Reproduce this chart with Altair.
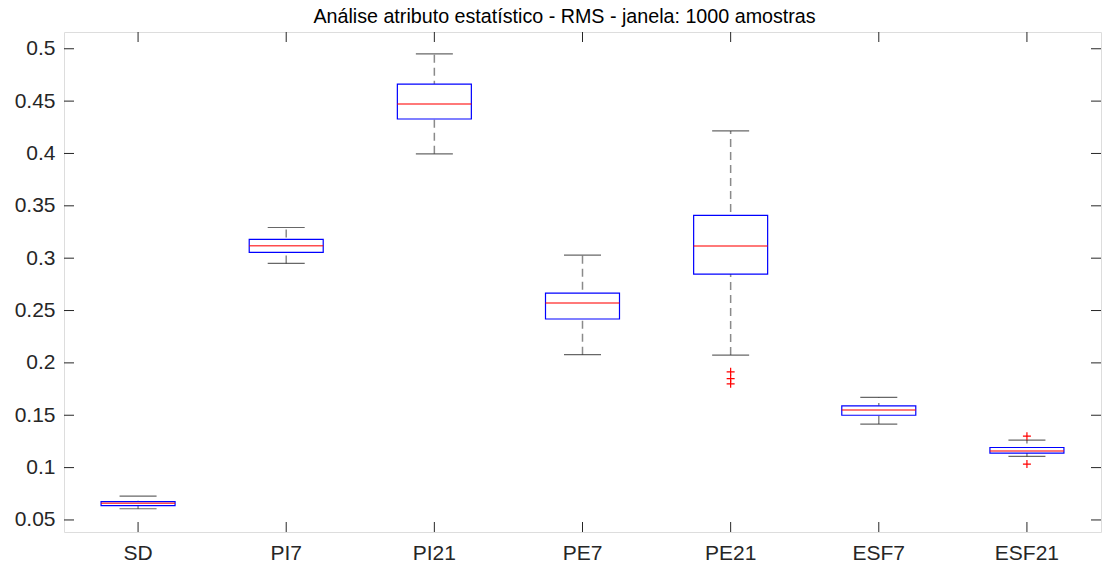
import altair as alt
import pandas as pd

categories = ["SD", "PI7", "PI21", "PE7", "PE21", "ESF7", "ESF21"]
whisker_low = [0.0607, 0.2950, 0.3997, 0.2078, 0.2075, 0.1416, 0.1107]
q1 = [0.0636, 0.3055, 0.4329, 0.2419, 0.2848, 0.1500, 0.1139]
median = [0.0660, 0.3119, 0.4472, 0.2571, 0.3116, 0.1550, 0.1158]
q3 = [0.0676, 0.3179, 0.4663, 0.2667, 0.3408, 0.1590, 0.1192]
whisker_high = [0.0727, 0.3293, 0.4952, 0.3030, 0.4215, 0.1670, 0.1263]

outlier_cat = ["PE21", "PE21", "PE21", "ESF21", "ESF21"]
outlier_val = [0.1915, 0.1850, 0.1800, 0.1300, 0.1034]

y_ticks = [0.05, 0.1, 0.15, 0.2, 0.25, 0.3, 0.35, 0.4, 0.45, 0.5]

title_text = "Análise atributo estatístico - RMS - janela: 1000 amostras"

W, H = 1037, 500
FONT = "Liberation Sans"
AX = "#262626"

boxes = pd.DataFrame({
    "cat": categories, "lo": whisker_low, "q1": q1,
    "med": median, "q3": q3, "hi": whisker_high,
})
caps = pd.DataFrame({
    "cat": categories + categories,
    "v": whisker_low + whisker_high,
})
outs = pd.DataFrame({"cat": outlier_cat, "v": outlier_val})
yt = pd.DataFrame({"v": y_ticks})
xt = pd.DataFrame({"cat": categories})

xscale = alt.Scale(domain=categories, paddingInner=0, paddingOuter=0)
yscale = alt.Scale(domain=[0.0385, 0.516], nice=False, zero=False)

xenc = alt.X("cat:N", scale=xscale, sort=categories,
             axis=alt.Axis(title=None, labelAngle=0, ticks=False, domain=False,
                           labelFont=FONT, labelFontSize=21, labelColor=AX,
                           labelPadding=10))

yaxis = alt.Axis(title=None, values=y_ticks, format=".2~f", ticks=False,
                 domain=False, grid=False, labelFont=FONT, labelFontSize=21,
                 labelColor=AX, labelPadding=9)

whisk = alt.Chart(boxes).mark_rule(color="#8a8a8a", strokeWidth=1.5,
                                   strokeDash=[8, 5]).encode(
    x=xenc,
    y=alt.Y("lo:Q", scale=yscale, axis=yaxis),
    y2="hi:Q",
)

cap = alt.Chart(caps).mark_tick(color=AX, size=37, thickness=1.2).encode(
    x=alt.X("cat:N", scale=xscale, sort=categories),
    y=alt.Y("v:Q", scale=yscale),
)

box = alt.Chart(boxes).mark_bar(fill="white", stroke="#0000ff",
                                strokeWidth=1.2, size=74).encode(
    x=alt.X("cat:N", scale=xscale, sort=categories),
    y=alt.Y("q1:Q", scale=yscale),
    y2="q3:Q",
)

med = alt.Chart(boxes).mark_tick(color="#ff0000", size=74, thickness=1.5).encode(
    x=alt.X("cat:N", scale=xscale, sort=categories),
    y=alt.Y("med:Q", scale=yscale),
)

pts = alt.Chart(outs).mark_point(shape="M-1,0L1,0M0,-1L0,1", size=64,
                                 stroke="#ff0000", strokeWidth=1.2,
                                 filled=False, opacity=1).encode(
    x=alt.X("cat:N", scale=xscale, sort=categories),
    y=alt.Y("v:Q", scale=yscale),
)

tl = alt.Chart(yt).mark_rule(color=AX, strokeWidth=1).encode(
    y=alt.Y("v:Q", scale=yscale), x=alt.value(0), x2=alt.value(10))
tr = alt.Chart(yt).mark_rule(color=AX, strokeWidth=1).encode(
    y=alt.Y("v:Q", scale=yscale), x=alt.value(W - 10), x2=alt.value(W))
tt = alt.Chart(xt).mark_rule(color=AX, strokeWidth=1).encode(
    x=alt.X("cat:N", scale=xscale, sort=categories), y=alt.value(0), y2=alt.value(10))
tb = alt.Chart(xt).mark_rule(color=AX, strokeWidth=1).encode(
    x=alt.X("cat:N", scale=xscale, sort=categories), y=alt.value(H - 10), y2=alt.value(H))

chart = alt.layer(whisk, box, med, cap, pts, tl, tr, tt, tb).properties(
    width=W, height=H,
    title=alt.TitleParams(text=title_text, font=FONT, fontSize=19.7,
                          fontWeight="normal", color="black", anchor="middle",
                          offset=5, dx=-18),
    autosize=alt.AutoSizeParams(type="none"),
    padding={"left": 64, "top": 32, "right": 1, "bottom": 36},
).configure_view(stroke=AX, strokeWidth=1.2).configure(background="white")

chart.save("out.html", embed_options={"renderer": "svg", "actions": False})
